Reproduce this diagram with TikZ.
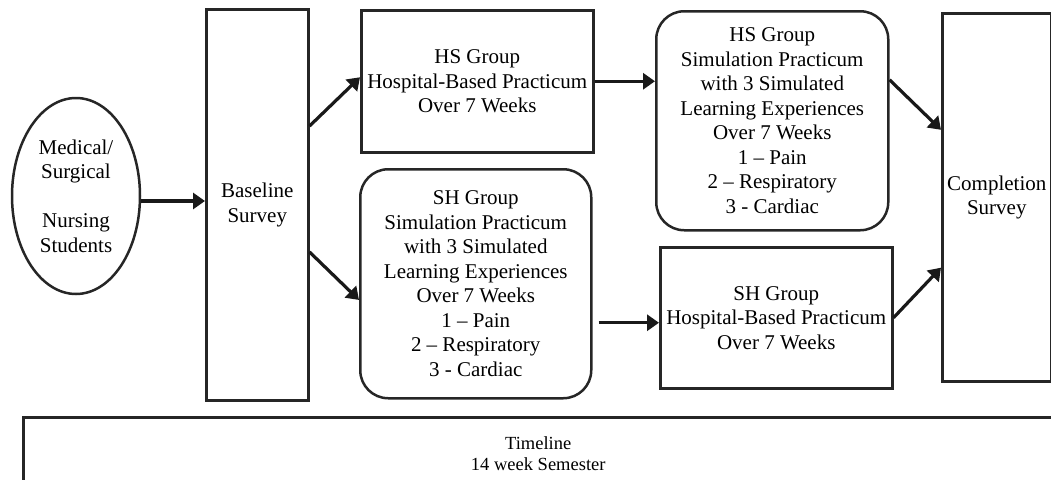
\documentclass[tikz,border=0pt]{standalone}
\usepackage{fontspec}
\setmainfont{Liberation Serif}
\usetikzlibrary{arrows.meta, shapes.geometric, calc}

\begin{document}
\begin{tikzpicture}[%
        x = 1pt, y = -1pt,
        my box/.style = {%
          draw = black!85,
          line width = 2.5pt,
          align = center,
          inner sep = 0pt,
          anchor = north west,
          font = \fontsize{21}{24.5}\selectfont,
        },
        my round box/.style = {my box, rounded corners = 28pt},
        my arrow/.style = {%
          draw = black!90,
          line width = 3.2pt,
          -{Triangle[length=12pt, width=16pt]},
        },
      ]
      \useasboundingbox (0,0) rectangle (1051,479);
      \clip (0,0) rectangle (1051,479);
      \node[my box, ellipse, anchor=center, minimum width=128pt, minimum height=196pt] (students) at (76,196)
        {Medical/\\ Surgical\\ \\ Nursing\\ Students};
      \node[my box, minimum width=102pt, minimum height=391pt] (baseline) at (205,8) {Baseline\\ Survey};
      \node[my box, minimum width=232pt, minimum height=142pt] (hs hospital) at (360,9)
        {HS Group\\ Hospital-Based Practicum\\ Over 7 Weeks};
      \node[my round box, minimum width=231pt, minimum height=229pt] (sh simulation) at (359,168)
        {SH Group\\ Simulation Practicum\\ with 3 Simulated\\ Learning Experiences\\ Over 7 Weeks\\ 1 -- Pain\\ 2 -- Respiratory\\ 3 - Cardiac};
      \node[my round box, minimum width=232pt, minimum height=219pt] (hs simulation) at (655,10)
        {HS Group\\ Simulation Practicum\\ with 3 Simulated\\ Learning Experiences\\ Over 7 Weeks\\ 1 -- Pain\\ 2 -- Respiratory\\ 3 - Cardiac};
      \node[my box, minimum width=232pt, minimum height=141pt] (sh hospital) at (659,246)
        {SH Group\\ Hospital-Based Practicum\\ Over 7 Weeks};
      \node[my box, minimum width=109pt, minimum height=368pt] (completion) at (941,12) {Completion\\ Survey};
      \node[my box, font=\fontsize{18.5}{21}\selectfont, minimum width=1030pt, minimum height=72pt] (timeline) at (22,416)
        {Timeline\\ 14 week Semester};

      \draw[my arrow] ([yshift=-5pt]students.east) -- ([yshift=-5pt]students.east -| baseline.west);
      \draw[my arrow] ($(baseline.north east)!0.3!(baseline.south east)$) -- ([yshift=4pt]hs hospital.west);
      \draw[my arrow] ($(baseline.north east)!0.62!(baseline.south east)$)
        -- ($(sh simulation.north west)!0.57!(sh simulation.south west)$);
      \draw[my arrow] (hs hospital.east) -- (hs hospital.east -| hs simulation.west);
      \draw[my arrow, shorten <=6pt] ([yshift=-5pt]sh simulation.east |- sh hospital.west) -- ([yshift=-5pt]sh hospital.west);
      \draw[my arrow] ($(hs simulation.north east)!0.315!(hs simulation.south east)$)
        -- ($(completion.north west)!0.318!(completion.south west)$);
      \draw[my arrow] (sh hospital.east) -- ($(completion.north west)!0.69!(completion.south west)$);
    \end{tikzpicture}
\end{document}
